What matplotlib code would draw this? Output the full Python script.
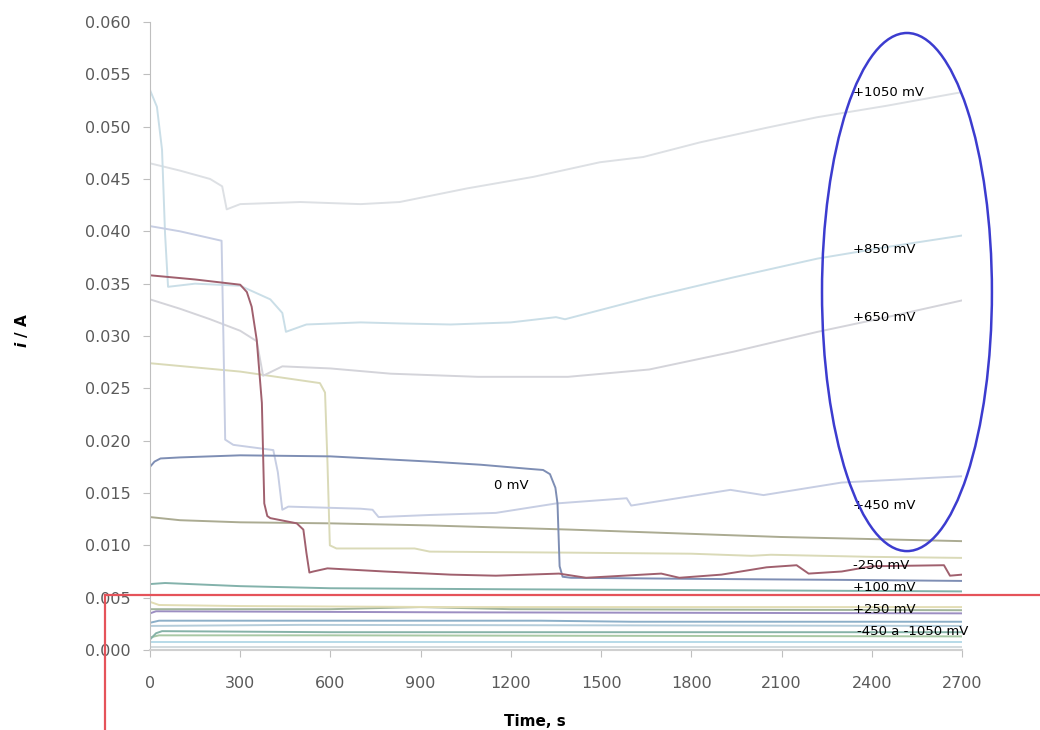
import matplotlib
matplotlib.use("Agg")
import matplotlib.pyplot as plt
from matplotlib.patches import Ellipse
from matplotlib.lines import Line2D

# courbes chronoampérométriques (temps en s, courant en A)
t_1050 = [0, 100, 200, 240, 255, 300, 500, 700, 830, 1054, 1274, 1496, 1640, 1829, 2051, 2218, 2450, 2700]
i_1050 = [0.0465, 0.0458, 0.0450, 0.0443, 0.0421, 0.0426, 0.0428, 0.0426, 0.0428, 0.0441, 0.0452, 0.0466,
          0.0471, 0.0485, 0.0499, 0.0509, 0.0520, 0.0533]

t_850 = [0, 23, 40, 50, 60, 150, 300, 400, 440, 452, 520, 700, 830, 1000, 1200, 1350, 1380, 1500, 1660, 1940,
         2220, 2450, 2700]
i_850 = [0.0535, 0.0519, 0.0478, 0.0398, 0.0347, 0.0350, 0.0348, 0.0335, 0.0322, 0.0304, 0.0311, 0.0313,
         0.0312, 0.0311, 0.0313, 0.0318, 0.0316, 0.0325, 0.0337, 0.0356, 0.0374, 0.0385, 0.0396]

t_650 = [0, 100, 200, 300, 355, 376, 440, 600, 800, 1090, 1390, 1660, 1940, 2220, 2450, 2700]
i_650 = [0.0335, 0.0326, 0.0316, 0.0305, 0.0295, 0.0262, 0.0271, 0.0269, 0.0264, 0.0261, 0.0261, 0.0268,
         0.0285, 0.0304, 0.0318, 0.0334]

t_450 = [0, 100, 238, 244, 250, 277, 410, 425, 440, 460, 700, 740, 760, 930, 1150, 1350, 1585, 1600, 1930,
         2040, 2300, 2700]
i_450 = [0.0405, 0.0400, 0.0391, 0.0300, 0.0201, 0.0196, 0.0191, 0.0170, 0.0134, 0.0137, 0.0135, 0.0134,
         0.0127, 0.0129, 0.0131, 0.0140, 0.0145, 0.0138, 0.0153, 0.0148, 0.0160, 0.0166]

t_red = [0, 150, 300, 322, 338, 355, 372, 380, 390, 400, 488, 510, 520, 530, 543, 590, 780, 1000, 1150, 1360,
         1450, 1700, 1760, 1900, 2050, 2150, 2190, 2300, 2400, 2640, 2660, 2700]
i_red = [0.0358, 0.0354, 0.0349, 0.0342, 0.0328, 0.0296, 0.0236, 0.0140, 0.0128, 0.0126, 0.0121, 0.0115,
         0.0093, 0.0074, 0.0075, 0.0078, 0.0075, 0.0072, 0.0071, 0.0073, 0.0069, 0.0073, 0.0069, 0.0072,
         0.0079, 0.0081, 0.0073, 0.0075, 0.0080, 0.0081, 0.0071, 0.0072]

t_kh = [0, 300, 565, 582, 590, 598, 620, 880, 930, 1400, 1800, 2000, 2065, 2400, 2700]
i_kh = [0.0274, 0.0266, 0.0255, 0.0246, 0.0180, 0.0100, 0.0097, 0.0097, 0.0094, 0.0093, 0.0092, 0.0090,
        0.0091, 0.0089, 0.0088]

t_0 = [0, 15, 35, 100, 300, 600, 931, 1100, 1263, 1307, 1330, 1348, 1355, 1362, 1372, 1400, 1800, 2300, 2700]
i_0 = [0.0175, 0.0180, 0.0183, 0.0184, 0.0186, 0.0185, 0.0180, 0.0177, 0.0173, 0.0172, 0.0168, 0.0155,
       0.0140, 0.0080, 0.0070, 0.0069, 0.0068, 0.0067, 0.0066]

t_ol = [0, 100, 300, 600, 931, 1400, 2095, 2700]
i_ol = [0.0127, 0.0124, 0.0122, 0.0121, 0.0119, 0.0115, 0.0108, 0.0104]

t_tl = [0, 50, 300, 600, 1200, 2000, 2700]
i_tl = [0.0063, 0.0064, 0.0061, 0.0059, 0.0058, 0.0057, 0.0056]

# courbes du bas (-450 a -1050 mV, +100, +250)
t_b1 = [0, 30, 300, 1000, 2700]
i_b1 = [0.0046, 0.0043, 0.0042, 0.0041, 0.0041]
t_b2 = [0, 600, 900, 1200, 2700]
i_b2 = [0.0039, 0.0039, 0.0041, 0.0039, 0.0038]
t_b3 = [0, 20, 1000, 2700]
i_b3 = [0.0035, 0.0037, 0.0036, 0.0035]
t_b4 = [0, 30, 600, 1300, 1600, 2700]
i_b4 = [0.0026, 0.0028, 0.0028, 0.0028, 0.0027, 0.0027]
t_b5 = [0, 500, 2700]
i_b5 = [0.0023, 0.0024, 0.0023]
t_b6 = [0, 20, 40, 600, 2700]
i_b6 = [0.0010, 0.0016, 0.0018, 0.0017, 0.0017]
t_b7 = [0, 30, 600, 2700]
i_b7 = [0.0012, 0.0014, 0.0014, 0.0013]
t_b8 = [0, 2700]
i_b8 = [0.0008, 0.0008]
t_b9 = [0, 2700]
i_b9 = [0.0003, 0.0003]

courbes = [
    (t_b9, i_b9, '#D3DADE'), (t_b8, i_b8, '#B8DAE8'), (t_b7, i_b7, '#A8C8A4'),
    (t_b6, i_b6, '#86B3A8'), (t_b5, i_b5, '#B4CCDA'), (t_b4, i_b4, '#8CAFC8'),
    (t_b3, i_b3, '#9C8EC2'), (t_b2, i_b2, '#A2B59C'), (t_b1, i_b1, '#E2DDB4'),
    (t_tl, i_tl, '#83B2AB'), (t_ol, i_ol, '#ABAB92'), (t_kh, i_kh, '#DADAB8'),
    (t_1050, i_1050, '#DDE0E4'), (t_850, i_850, '#CADEE7'), (t_650, i_650, '#D4D4DA'),
    (t_450, i_450, '#C7CEE3'), (t_0, i_0, '#7E8EB4'), (t_red, i_red, '#A0606E'),
]

etiquettes = ['+1050 mV', '+850 mV', '+650 mV', '+450 mV', '-250 mV', '+100 mV', '+250 mV', '-450 a -1050 mV']
etiq_y = [0.0533, 0.0383, 0.0318, 0.01385, 0.0081, 0.0060, 0.0039, 0.0018]

fig = plt.figure(figsize=(10.4, 7.3), dpi=100)
ax = fig.add_axes([150/1040, 1-650/730, 812/1040, 628/730])

for t, i, c in courbes:
    ax.plot(t, i, color=c, linewidth=1.4)

ax.set_xlim(0, 2700)
ax.set_ylim(0, 0.060)
ax.set_xticks(range(0, 2701, 300))
ax.set_yticks([k*0.005 for k in range(13)])
ax.set_yticklabels(['%.3f' % (k*0.005) for k in range(13)])
for s in ['top', 'right']:
    ax.spines[s].set_visible(False)
ax.spines['left'].set_color('#BFBFBF')
ax.spines['bottom'].set_color('#D0D0D0')
ax.spines['bottom'].set_linewidth(1.5)
ax.tick_params(axis='both', colors='#BFBFBF', labelcolor='#5A5A5A', labelsize=11.5, length=5)
ax.tick_params(axis='x', pad=14)
ax.tick_params(axis='y', pad=9)

# etiquettes des potentiels
for txt, y in zip(etiquettes, etiq_y):
    x = 2351 if txt.startswith('-450') else 2338
    ax.text(x, y, txt, fontsize=9.5, va='center', ha='left', color='black')
ax.text(1200, 0.0157, '0 mV', fontsize=9.5, va='center', ha='center', color='black')

# ellipse bleue
ax.add_patch(Ellipse((2517, 0.0342), 565, 0.0495, fill=False, edgecolor='#3C3CCF', linewidth=1.8,
                     clip_on=False, zorder=5))

# lignes rouges
fig.add_artist(Line2D([105/1040, 1], [1-595/730, 1-595/730], color='#E5535A', linewidth=1.6, zorder=10))
fig.add_artist(Line2D([105/1040, 105/1040], [0, 1-595/730], color='#E5535A', linewidth=1.6, zorder=10))

fig.text(22/1040, 1-330/730, r'$\mathbfit{i}$ / A', rotation=90, fontsize=11, fontweight='bold',
         ha='center', va='center')
fig.text(535/1040, 1-722/730, 'Time, s', fontsize=11, fontweight='bold', ha='center', va='center')

plt.savefig('out.png', dpi=100)
plt.close()
